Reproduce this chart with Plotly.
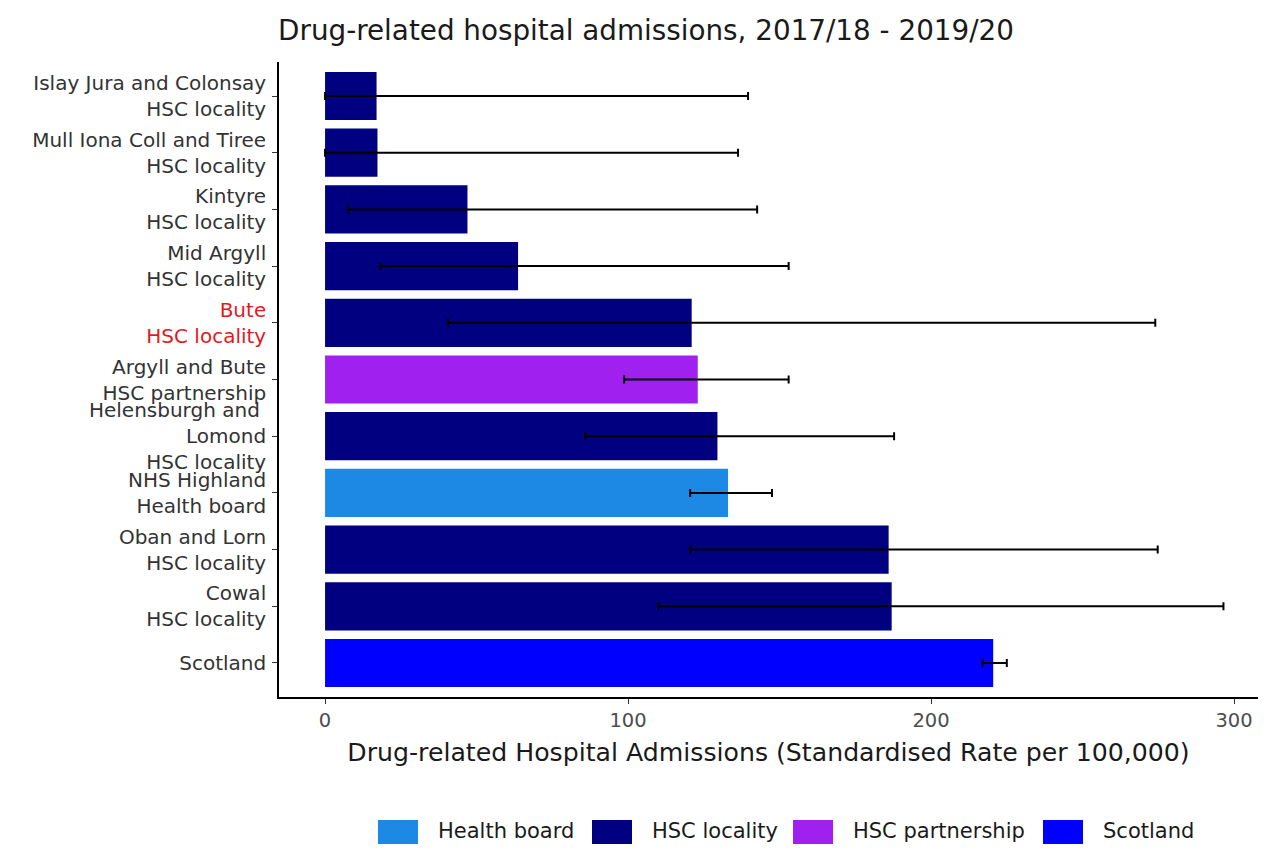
import plotly.graph_objects as go

areas = ["Islay Jura and Colonsay", "Mull Iona Coll and Tiree", "Kintyre", "Mid Argyll", "Bute",
         "Argyll and Bute", "Helensburgh and Lomond", "NHS Highland", "Oban and Lorn", "Cowal", "Scotland"]
area_labels = ["Islay Jura and Colonsay", "Mull Iona Coll and Tiree", "Kintyre", "Mid Argyll", "Bute",
               "Argyll and Bute", "Helensburgh and&nbsp;<br>Lomond", "NHS Highland", "Oban and Lorn", "Cowal", "Scotland"]
types = ["HSC locality", "HSC locality", "HSC locality", "HSC locality", "HSC locality",
         "HSC partnership", "HSC locality", "Health board", "HSC locality", "HSC locality", "Scotland"]
rates = [17.0, 17.3, 47.0, 63.7, 121.0, 123.0, 129.5, 133.0, 186.0, 187.0, 220.5]
lower = [0.0, 0.0, 7.6, 18.2, 40.6, 98.7, 85.8, 120.5, 120.5, 110.0, 217.0]
upper = [139.6, 136.3, 142.6, 153.0, 274.0, 153.0, 187.8, 147.5, 274.8, 296.5, 225.0]
highlight = "Bute"
x_ticks = [0, 100, 200, 300]

type_order = ["Health board", "HSC locality", "HSC partnership", "Scotland"]
type_colors = {"Health board": "#1E88E5", "HSC locality": "#000080",
               "HSC partnership": "#A020F0", "Scotland": "#0000FF"}

FONT = "DejaVu Sans, Liberation Sans, sans-serif"

# figure geometry (page body has an 8px margin)
W, H = 1250, 836
ML, MT, MB, MR = 271, 54, 147, 0
PW, PH = W - ML - MR, H - MT - MB


def px(fx):
    return (fx - ML) / PW


def py(fy):
    return (MT + PH - fy) / PH


fig = go.Figure()
for t in type_order:
    idx = [i for i, tt in enumerate(types) if tt == t]
    fig.add_trace(go.Bar(
        orientation="h",
        y=[areas[i] for i in idx],
        x=[rates[i] for i in idx],
        name=t,
        showlegend=False,
        marker=dict(color=type_colors[t], line=dict(width=0)),
        width=0.85,
        error_x=dict(type="data", symmetric=False,
                     array=[upper[i] - rates[i] for i in idx],
                     arrayminus=[rates[i] - lower[i] for i in idx],
                     color="black", thickness=2, width=4),
    ))

ticktext = []
for a, lab, t in zip(areas, area_labels, types):
    txt = lab if t == "Scotland" else f"{lab}<br>{t}"
    if a == highlight:
        txt = "<br>".join(f"<span style='color:#E3191E'>{p}</span>" for p in txt.split("<br>"))
    ticktext.append(txt)

# legend (ggplot-style large keys) built from the type list
leg_key_x = [370, 584, 785, 1035]
shapes, annotations = [], []
for t, kx in zip(type_order, leg_key_x):
    shapes.append(dict(type="rect", xref="paper", yref="paper",
                       x0=px(kx), x1=px(kx + 40), y0=py(812), y1=py(852),
                       fillcolor=type_colors[t], line=dict(width=0), layer="above"))
    annotations.append(dict(text=t, xref="paper", yref="paper", x=px(kx + 58), y=py(823),
                            xanchor="left", yanchor="middle", showarrow=False,
                            font=dict(size=21, color="#1a1a1a", family=FONT)))

order = list(reversed(areas))
fig.update_layout(
    width=W, height=H,
    paper_bgcolor="white", plot_bgcolor="white",
    font=dict(family=FONT, color="#1a1a1a"),
    margin=dict(l=ML, r=MR, t=MT, b=MB, autoexpand=False),
    barmode="overlay",
    showlegend=False,
    title=dict(text="Drug-related hospital admissions, 2017/18 - 2019/20",
               x=638 / W, xanchor="center", y=1 - 22 / H, yanchor="middle",
               font=dict(size=27.8, color="#1a1a1a", family=FONT)),
    xaxis=dict(range=[-15.2, 307.9], tickvals=x_ticks, automargin=False,
               showgrid=False, zeroline=False, showline=True, linecolor="black", linewidth=1.6,
               ticks="outside", ticklen=5, tickwidth=1.2, tickcolor="#333333",
               tickfont=dict(size=19.5, color="#4D4D4D", family=FONT),
               title=dict(text="Drug-related Hospital Admissions (Standardised Rate per 100,000)",
                          font=dict(size=25.2, color="#1a1a1a", family=FONT), standoff=12)),
    yaxis=dict(categoryorder="array", categoryarray=order, range=[-0.6, 10.6], automargin=False,
               tickvals=areas, ticktext=ticktext,
               showgrid=False, zeroline=False, showline=True, linecolor="black", linewidth=1.6,
               ticks="outside", ticklen=5, tickwidth=1.2, tickcolor="#333333",
               ticklabelstandoff=2,
               tickfont=dict(size=20, color="#333333", family=FONT)),
    shapes=shapes,
    annotations=annotations,
)

fig.write_html("out.html")
